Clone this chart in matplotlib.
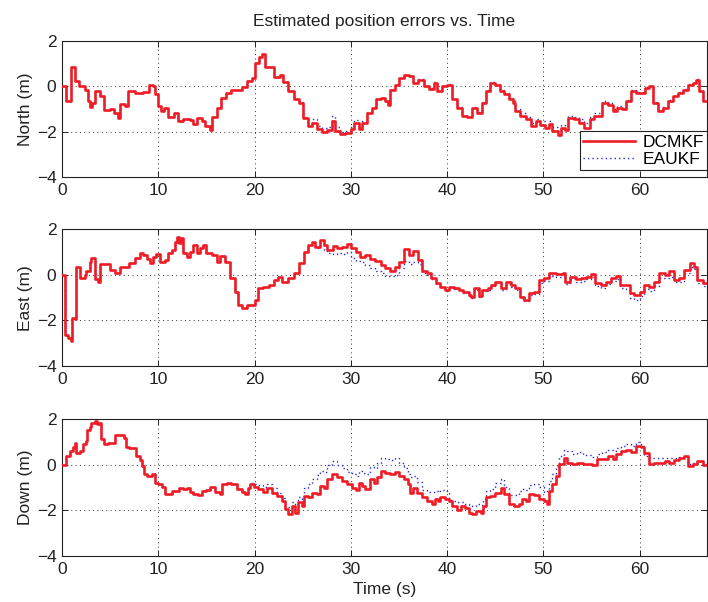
import matplotlib
matplotlib.use("Agg")
import matplotlib.pyplot as plt

plt.rcParams['font.family'] = ['Liberation Sans', 'DejaVu Sans']

# ---- North channel ----
t_north = [0, 0.45, 0.9, 1.4, 1.8, 2.4, 2.7, 2.9, 3.1, 3.4, 3.9, 4.4, 5.0, 5.4, 5.8, 6.0, 6.5, 6.9,
           7.6, 8.4, 9.0, 9.4, 9.7, 10.0, 10.3, 10.6, 11.0, 11.6, 12.0, 12.6, 13.3, 13.6, 14.0, 14.5,
           14.9, 15.4, 15.6, 16.1, 16.5, 17.0, 17.6, 18.7, 19.2, 19.7, 20.0, 20.5, 20.8, 21.1, 22.0,
           22.6, 23.0, 23.5, 24.1, 24.6, 25.0, 25.5, 26.0, 26.5, 27.0, 27.5, 28.0, 28.4, 28.9, 29.4,
           30.0, 30.3, 30.8, 31.2, 31.7, 32.2, 32.6, 33.1, 33.6, 33.9, 34.1, 34.6, 35.0, 35.5, 36.0,
           36.5, 37.0, 37.6, 38.1, 38.6, 39.0, 39.5, 40.0, 40.5, 41.0, 41.5, 42.1, 42.6, 43.1, 43.6,
           44.0, 44.5, 45.0, 45.5, 45.9, 46.4, 46.8, 47.1, 47.6, 48.2, 48.7, 49.2, 49.7, 50.2, 50.6,
           50.9, 51.5, 51.8, 52.3, 52.6, 53.2, 53.7, 54.2, 54.8, 55.3, 56.1, 56.7, 57.2, 57.6, 58.2,
           58.6, 59.1, 59.6, 60.1, 60.6, 61.0, 61.4, 61.9, 62.4, 62.9, 63.5, 64.0, 64.5, 65.0, 65.5,
           65.9, 66.2, 66.6, 67.2]
north_dcmkf = [0, -0.63, 0.87, 0.22, 0.0, -0.15, -0.65, -0.92, -0.73, -0.19, -0.44, -1.05, -0.98, -1.16,
               -1.41, -0.77, -0.87, -0.22, -0.29, -0.25, 0.07, 0.0, -0.36, -0.87, -1.09, -0.95, -1.35,
               -1.16, -1.53, -1.43, -1.50, -1.67, -1.41, -1.53, -1.75, -1.94, -1.35, -0.95, -0.51,
               -0.29, -0.15, -0.04, 0.22, 0.36, 1.02, 1.27, 1.41, 0.87, 0.39, 0.51, 0.17, -0.19, -0.58,
               -0.73, -1.41, -1.75, -1.60, -1.89, -2.00, -1.92, -1.53, -1.96, -2.11, -2.05, -1.89,
               -1.60, -1.89, -1.60, -1.16, -0.95, -0.58, -0.51, -0.66, -0.83, -0.15, 0.07, 0.36, 0.48,
               0.44, 0.15, 0.29, 0.0, -0.10, 0.15, -0.22, 0.0, 0.07, -0.58, -0.95, -1.31, -1.35, -0.95,
               -1.16, -0.73, -0.22, 0.15, 0.05, -0.19, -0.36, -0.58, -0.73, -1.09, -1.31, -1.46, -1.75,
               -1.53, -1.70, -1.85, -1.68, -1.96, -2.14, -1.85, -1.93, -1.41, -1.46, -1.60, -1.82,
               -1.46, -1.31, -0.73, -0.83, -1.09, -0.95, -1.02, -0.66, -0.22, -0.29, -0.29, -0.07, 0.0,
               -0.73, -1.09, -0.95, -0.66, -0.44, -0.29, -0.15, 0.07, 0.15, 0.29, -0.22, -0.63, -0.63]
north_eaukf = [0, -0.63, 0.87, 0.22, 0.0, -0.15, -0.65, -0.92, -0.73, -0.19, -0.44, -1.05, -0.98, -1.16,
               -1.41, -0.77, -0.87, -0.22, -0.29, -0.25, 0.07, 0.0, -0.36, -0.87, -1.09, -0.95, -1.35,
               -1.16, -1.53, -1.43, -1.50, -1.67, -1.41, -1.53, -1.75, -1.94, -1.35, -0.95, -0.51,
               -0.29, -0.15, -0.04, 0.22, 0.36, 1.02, 1.27, 1.41, 0.87, 0.39, 0.51, 0.17, -0.19, -0.55,
               -0.70, -1.35, -1.62, -1.45, -1.75, -1.85, -1.80, -1.30, -1.80, -2.00, -1.95, -1.80,
               -1.50, -1.80, -1.55, -1.12, -0.92, -0.55, -0.50, -0.64, -0.80, -0.12, 0.08, 0.38, 0.50,
               0.45, 0.18, 0.30, 0.02, -0.08, 0.17, -0.20, 0.02, 0.08, -0.55, -0.92, -1.28, -1.32, -0.92,
               -1.12, -0.70, -0.18, 0.18, 0.08, -0.15, -0.30, -0.50, -0.62, -0.98, -1.20, -1.35, -1.60,
               -1.45, -1.55, -1.70, -1.55, -1.80, -1.95, -1.72, -1.75, -1.30, -1.35, -1.45, -1.60,
               -1.35, -1.20, -0.65, -0.75, -1.00, -0.88, -0.95, -0.60, -0.18, -0.25, -0.25, -0.05, 0.02,
               -0.70, -1.05, -0.92, -0.62, -0.42, -0.27, -0.13, 0.08, 0.17, 0.30, -0.20, -0.60, -0.60]

# ---- East channel ----
t_east = [0, 0.35, 0.6, 0.9, 1.0, 1.3, 1.5, 1.9, 2.4, 2.5, 2.9, 3.05, 3.4, 3.75, 3.9, 4.6, 5.0, 5.5,
          6.0, 6.5, 7.0, 7.6, 8.1, 8.4, 8.8, 9.1, 9.4, 9.8, 10.2, 10.7, 11.0, 11.4, 11.7, 11.9, 12.2,
          12.4, 12.6, 13.0, 13.3, 13.6, 14.0, 14.3, 14.6, 15.0, 15.6, 16.1, 16.4, 16.9, 17.5, 18.0,
          18.3, 18.7, 19.2, 19.7, 20.0, 20.4, 20.9, 21.5, 22.0, 22.4, 22.9, 23.5, 24.1, 24.6, 25.1,
          25.6, 26.0, 26.3, 26.8, 27.2, 27.5, 28.1, 28.6, 29.1, 29.6, 30.0, 30.5, 31.0, 31.5, 32.0,
          32.5, 33.1, 33.6, 34.1, 34.6, 35.0, 35.5, 36.0, 36.5, 37.0, 37.4, 37.9, 38.3, 38.8, 39.3,
          39.8, 40.2, 40.7, 41.2, 41.7, 42.3, 42.5, 42.8, 43.3, 43.6, 44.2, 44.6, 45.0, 45.6, 46.1,
          46.6, 47.1, 47.6, 48.0, 48.5, 49.0, 49.5, 50.1, 50.6, 51.3, 52.0, 52.3, 52.8, 53.4, 53.9,
          54.4, 54.9, 55.4, 56.0, 56.5, 57.0, 57.5, 58.0, 58.6, 59.0, 59.4, 60.0, 60.5, 61.0, 61.5,
          62.0, 62.6, 63.1, 63.6, 64.1, 64.6, 65.2, 65.7, 66.0, 66.6, 67.1]
east_dcmkf = [0, -2.63, -2.77, -2.92, -1.90, -1.95, 0.36, -0.15, 0.0, 0.15, 0.58, 0.73, -0.19, -0.29,
              0.48, 0.47, 0.22, 0.10, 0.36, 0.36, 0.51, 0.73, 0.98, 0.87, 0.68, 0.51, 0.80, 0.92, 0.58,
              0.65, 0.95, 1.09, 1.46, 1.68, 1.38, 1.60, 0.95, 0.77, 1.02, 1.31, 0.95, 1.16, 1.31, 0.95,
              0.88, 0.58, 0.83, 0.58, -0.15, -0.73, -1.31, -1.46, -1.31, -1.31, -1.09, -0.58, -0.51,
              -0.44, -0.22, -0.07, -0.29, -0.15, 0.07, 0.51, 1.02, 1.31, 1.46, 1.24, 1.53, 1.31, 1.09,
              1.27, 1.17, 1.24, 1.36, 1.17, 1.02, 0.80, 0.87, 0.69, 0.60, 0.44, 0.29, 0.15, 0.36, 0.58,
              1.12, 0.87, 1.05, 0.65, 0.15, 0.07, -0.15, -0.36, -0.51, -0.65, -0.51, -0.58, -0.65,
              -0.73, -0.87, -0.95, -0.58, -0.92, -0.65, -0.58, -0.44, -0.29, -0.58, -0.29, -0.44,
              -0.58, -0.95, -1.09, -0.80, -0.73, -0.22, -0.15, 0.07, 0.04, 0.07, -0.29, -0.07, -0.19,
              -0.15, -0.07, 0.04, -0.36, -0.44, -0.29, -0.15, -0.04, -0.44, -0.44, -0.80, -0.87, -0.73,
              -0.44, -0.51, -0.29, 0.07, 0.0, 0.15, -0.22, -0.15, 0.22, 0.51, 0.36, -0.22, -0.36, -0.15]
east_eaukf = [0, -2.63, -2.77, -2.92, -1.90, -1.95, 0.36, -0.15, 0.0, 0.15, 0.58, 0.73, -0.19, -0.29,
              0.48, 0.47, 0.22, 0.10, 0.36, 0.36, 0.51, 0.73, 0.98, 0.87, 0.68, 0.51, 0.80, 0.92, 0.58,
              0.65, 0.95, 1.09, 1.46, 1.68, 1.38, 1.60, 0.95, 0.77, 1.02, 1.31, 0.95, 1.16, 1.31, 0.95,
              0.88, 0.58, 0.83, 0.58, -0.15, -0.73, -1.31, -1.46, -1.31, -1.31, -1.09, -0.58, -0.51,
              -0.44, -0.22, -0.07, -0.29, -0.15, 0.07, 0.51, 1.00, 1.28, 1.40, 1.20, 1.30, 1.10, 0.95,
              0.90, 0.95, 0.90, 1.00, 0.75, 0.60, 0.55, 0.45, 0.30, 0.15, 0.07, -0.05, -0.05, 0.0, 0.30,
              0.60, 0.50, 0.55, 0.50, 0.10, 0.0, -0.20, -0.40, -0.55, -0.70, -0.55, -0.62, -0.68,
              -0.78, -0.92, -1.00, -0.65, -0.95, -0.72, -0.65, -0.50, -0.35, -0.65, -0.38, -0.52,
              -0.65, -1.02, -1.15, -0.90, -0.85, -0.35, -0.25, -0.05, -0.10, -0.08, -0.42, -0.20, -0.32,
              -0.28, -0.20, -0.10, -0.50, -0.58, -0.42, -0.28, -0.18, -0.58, -0.60, -1.00, -1.12, -0.92,
              -0.62, -0.70, -0.50, -0.15, -0.15, -0.10, -0.32, -0.30, 0.10, 0.35, 0.25, -0.35, -0.50, -0.50]

# ---- Down channel ----
t_down = [0, 0.45, 0.8, 1.15, 1.4, 1.5, 1.85, 2.2, 2.45, 2.6, 2.9, 3.05, 3.4, 3.6, 3.8, 4.0, 4.4, 4.8,
          5.5, 6.4, 6.6, 7.0, 7.7, 8.1, 8.3, 8.5, 8.8, 9.3, 9.7, 10.0, 10.4, 10.7, 11.0, 11.4, 12.1,
          12.6, 13.0, 13.3, 13.6, 14.1, 14.5, 15.0, 15.4, 15.9, 16.4, 16.6, 17.1, 17.6, 18.2, 18.7,
          19.0, 19.3, 19.5, 19.9, 20.4, 20.9, 21.3, 21.8, 22.3, 22.8, 23.2, 23.5, 23.9, 24.2, 24.5,
          24.9, 25.1, 25.6, 26.0, 26.5, 26.8, 27.2, 27.5, 28.0, 28.6, 29.1, 29.6, 30.1, 30.5, 30.8,
          31.2, 31.5, 32.0, 32.4, 32.7, 33.1, 33.6, 34.1, 34.6, 35.0, 35.5, 35.9, 36.1, 36.5, 36.9,
          37.4, 37.9, 38.4, 38.7, 39.1, 39.3, 39.8, 40.2, 40.5, 41.0, 41.4, 41.9, 42.3, 42.6, 43.0,
          43.5, 43.7, 44.0, 44.5, 45.0, 45.6, 45.9, 46.4, 46.9, 47.5, 47.8, 48.2, 48.5, 49.0, 49.5,
          50.1, 50.4, 50.6, 50.9, 51.3, 51.6, 52.1, 52.5, 53.0, 53.5, 54.1, 54.6, 55.1, 55.6, 56.1,
          56.7, 57.2, 57.5, 58.1, 58.6, 59.1, 59.6, 60.1, 60.5, 61.0, 61.5, 62.0, 62.6, 63.1, 63.6,
          64.1, 64.6, 65.0, 65.5, 66.0, 66.6, 67.1]
down_dcmkf = [0, 0.40, 0.61, 0.79, 0.94, 0.54, 0.61, 0.91, 1.05, 1.52, 1.67, 1.86, 1.93, 1.79, 1.86,
              1.13, 0.91, 0.98, 1.32, 1.20, 0.79, 0.76, 0.40, 0.20, -0.04, -0.41, -0.48, -0.41, -0.78,
              -0.85, -0.97, -1.26, -1.29, -1.14, -1.00, -1.07, -1.00, -1.17, -1.29, -1.32, -1.14, -1.11,
              -0.97, -1.17, -1.29, -0.82, -0.78, -0.85, -1.07, -1.17, -1.29, -1.00, -0.82, -0.97, -1.07,
              -1.17, -1.00, -1.22, -1.36, -1.58, -1.95, -2.14, -1.80, -2.09, -1.65, -1.80, -1.36, -1.43,
              -1.22, -1.29, -0.92, -1.00, -0.63, -0.38, -0.53, -0.70, -0.85, -1.00, -1.11, -0.78, -0.92,
              -1.07, -0.63, -0.78, -0.53, -0.26, -0.34, -0.41, -0.31, -0.48, -0.63, -0.85, -1.22, -1.03,
              -1.22, -1.43, -1.58, -1.70, -1.51, -1.58, -1.41, -1.51, -1.58, -1.80, -2.00, -1.80, -1.88,
              -2.09, -2.17, -2.02, -2.09, -1.80, -1.43, -1.36, -1.22, -1.00, -1.29, -1.70, -1.80, -1.73,
              -1.51, -1.58, -1.29, -1.32, -1.51, -1.58, -1.70, -1.14, -0.82, -0.48, 0.03, 0.32, 0.10,
              0.06, 0.10, 0.06, 0.03, 0.0, 0.25, 0.25, 0.40, 0.25, 0.47, 0.61, 0.64, 0.58, 0.83, 0.79,
              0.54, 0.03, 0.10, 0.10, 0.18, 0.10, 0.20, 0.29, 0.40, -0.04, 0.06, 0.15, 0.0, 0.10]
down_eaukf = [0, 0.40, 0.61, 0.79, 0.94, 0.54, 0.61, 0.91, 1.05, 1.52, 1.67, 1.86, 1.93, 1.79, 1.86,
              1.13, 0.91, 0.98, 1.32, 1.20, 0.79, 0.76, 0.40, 0.20, -0.04, -0.41, -0.48, -0.41, -0.78,
              -0.85, -0.97, -1.26, -1.29, -1.14, -1.00, -1.07, -1.00, -1.17, -1.29, -1.32, -1.14, -1.11,
              -0.97, -1.17, -1.29, -0.82, -0.78, -0.85, -1.07, -1.17, -1.29, -1.00, -0.80, -0.85, -0.90,
              -0.95, -0.85, -1.00, -1.25, -1.45, -1.80, -1.85, -1.65, -1.75, -1.40, -1.50, -1.00, -0.85,
              -0.60, -0.45, -0.25, -0.30, 0.00, 0.15, 0.00, -0.15, -0.30, -0.40, -0.50, -0.25, -0.35,
              -0.40, -0.10, -0.15, 0.10, 0.30, 0.25, 0.20, 0.30, 0.10, -0.15, -0.40, -0.55, -0.50,
              -0.75, -1.10, -1.20, -1.20, -1.15, -1.20, -1.10, -1.15, -1.55, -1.60, -1.65, -1.65, -1.70,
              -1.75, -1.80, -1.70, -1.75, -1.50, -1.15, -1.05, -0.80, -0.60, -0.95, -1.30, -1.30, -1.15,
              -1.05, -1.10, -0.90, -0.85, -0.95, -1.20, -1.15, -0.70, -0.40, -0.05, 0.40, 0.65, 0.60,
              0.50, 0.55, 0.45, 0.45, 0.35, 0.50, 0.55, 0.65, 0.60, 0.75, 0.85, 0.90, 0.85, 1.00, 0.85,
              0.40, 0.30, 0.30, 0.30, 0.30, 0.30, 0.30, 0.35, 0.35, 0.05, 0.10, 0.15, 0.05, 0.10]

panels = [
    ("North (m)", t_north, north_dcmkf, north_eaukf),
    ("East (m)", t_east, east_dcmkf, east_eaukf),
    ("Down (m)", t_down, down_dcmkf, down_eaukf),
]

x_ticks = [0, 10, 20, 30, 40, 50, 60]
y_ticks = [-4, -2, 0, 2]

RED = '#ee1c25'
BLUE = '#2a2ad2'
TEXT = '#222222'
FS = 12.5

fig = plt.figure(figsize=(7.08, 6.02), dpi=100)
positions = [
    [0.0876, 0.706, 0.911, 0.226],
    [0.0876, 0.392, 0.911, 0.227],
    [0.0876, 0.0764, 0.911, 0.227],
]

axes = []
for pos, (ylabel, t, red, blue) in zip(positions, panels):
    ax = fig.add_axes(pos)
    ax.plot(t, blue, color=BLUE, linestyle=(0, (1, 2.2)), linewidth=1.0,
            drawstyle='steps-post', label='EAUKF', zorder=2)
    ax.plot(t, red, color=RED, linewidth=1.9, drawstyle='steps-post',
            label='DCMKF', zorder=3)
    ax.set_xlim(0, 67)
    ax.set_ylim(-4, 2)
    ax.set_xticks(x_ticks)
    ax.set_yticks(y_ticks)
    ax.grid(True, color='#333333', linestyle=(0, (1, 3.5)), linewidth=0.7)
    ax.tick_params(direction='in', top=True, right=True, length=4, width=0.7,
                   labelsize=FS, colors=TEXT, pad=4)
    for s in ax.spines.values():
        s.set_linewidth(0.8)
        s.set_color(TEXT)
    ax.set_ylabel(ylabel, fontsize=FS, color=TEXT, labelpad=3)
    axes.append(ax)

axes[0].set_title("Estimated position errors vs. Time", fontsize=FS,
                  color=TEXT, pad=11)
axes[2].set_xlabel("Time (s)", fontsize=FS, color=TEXT, labelpad=4)

handles, labels = axes[0].get_legend_handles_labels()
leg = axes[0].legend(handles[::-1], labels[::-1], loc='lower right',
                     bbox_to_anchor=(1.0, 0.05), fancybox=False, framealpha=1,
                     edgecolor=TEXT, fontsize=FS, borderpad=0.2,
                     handlelength=3.0, labelspacing=0.1, handletextpad=0.4,
                     borderaxespad=0.0)
leg.get_frame().set_linewidth(0.8)

fig.savefig("out.png", dpi=100)
